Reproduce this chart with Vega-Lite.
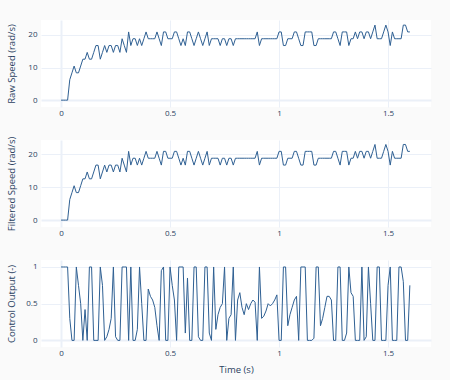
{
 "$schema": "https://vega.github.io/schema/vega-lite/v6.json",
 "background": "#fafafa",
 "padding": {"left": 5, "top": 20, "right": 20, "bottom": 6},
 "bounds": "flush",
 "spacing": 33,
 "config": {
  "view": {"fill": "white", "stroke": null},
  "font": "Open Sans",
  "axis": {
   "domain": false, "ticks": false, "labelPadding": 2, "labelFontSize": 8, "labelColor": "#2a3f5f",
   "titleFontSize": 9.5, "titleFontWeight": "normal", "titleColor": "#2a3f5f",
   "gridColor": "#ebf0f8",
   "gridWidth": {"condition": {"test": "datum.value === 0", "value": 2}, "value": 1}
  },
  "axisY": {"titleX": -30, "titleY": 43.5, "titleBaseline": "middle", "labelPadding": 4},
  "axisX": {"titlePadding": 7}
 },
 "datasets": {"d": [
{"t":0,"raw":0,"ctrl":1},{"t":0.01,"raw":0,"ctrl":1},{"t":0.02,"raw":0,"ctrl":1},{"t":0.03,"raw":0,"ctrl":1},{"t":0.04,"raw":6.28,"ctrl":0.3},
{"t":0.05,"raw":8.38,"ctrl":0},{"t":0.06,"raw":10.47,"ctrl":0},{"t":0.07,"raw":8.38,"ctrl":1},{"t":0.08,"raw":8.38,"ctrl":0.75},{"t":0.09,"raw":10.47,"ctrl":0.5},
{"t":0.1,"raw":12.57,"ctrl":0},{"t":0.11,"raw":12.57,"ctrl":0.42},{"t":0.12,"raw":14.66,"ctrl":0},{"t":0.13,"raw":12.57,"ctrl":1},{"t":0.14,"raw":12.57,"ctrl":1},
{"t":0.15,"raw":14.66,"ctrl":0},{"t":0.16,"raw":16.76,"ctrl":0},{"t":0.17,"raw":16.76,"ctrl":0},{"t":0.18,"raw":12.57,"ctrl":1},{"t":0.19,"raw":14.66,"ctrl":0.75},
{"t":0.2,"raw":16.76,"ctrl":0},{"t":0.21,"raw":14.66,"ctrl":0.05},{"t":0.22,"raw":16.76,"ctrl":0.15},{"t":0.23,"raw":16.76,"ctrl":0.3},{"t":0.24,"raw":14.66,"ctrl":1},
{"t":0.25,"raw":16.76,"ctrl":0.05},{"t":0.26,"raw":16.76,"ctrl":0},{"t":0.27,"raw":14.66,"ctrl":0},{"t":0.28,"raw":18.85,"ctrl":1},{"t":0.29,"raw":16.76,"ctrl":1},
{"t":0.3,"raw":14.66,"ctrl":1},{"t":0.31,"raw":20.94,"ctrl":0},{"t":0.32,"raw":16.76,"ctrl":1},{"t":0.33,"raw":18.85,"ctrl":0},{"t":0.34,"raw":18.85,"ctrl":0},
{"t":0.35,"raw":16.76,"ctrl":0.15},{"t":0.36,"raw":18.85,"ctrl":1},{"t":0.37,"raw":16.76,"ctrl":0.5},{"t":0.38,"raw":18.85,"ctrl":0},{"t":0.39,"raw":20.94,"ctrl":0},
{"t":0.4,"raw":18.85,"ctrl":0.7},{"t":0.41,"raw":18.85,"ctrl":0.6},{"t":0.42,"raw":18.85,"ctrl":0.55},{"t":0.43,"raw":18.85,"ctrl":0.45},{"t":0.44,"raw":20.94,"ctrl":0.2},
{"t":0.45,"raw":18.85,"ctrl":0},{"t":0.46,"raw":16.76,"ctrl":0.95},{"t":0.47,"raw":20.94,"ctrl":1},{"t":0.48,"raw":20.94,"ctrl":0},{"t":0.49,"raw":18.85,"ctrl":0},
{"t":0.5,"raw":18.85,"ctrl":1},{"t":0.51,"raw":18.85,"ctrl":0.75},{"t":0.52,"raw":20.94,"ctrl":0.55},{"t":0.53,"raw":20.94,"ctrl":0},{"t":0.54,"raw":18.85,"ctrl":1},
{"t":0.55,"raw":16.76,"ctrl":1},{"t":0.56,"raw":18.85,"ctrl":1},{"t":0.57,"raw":16.76,"ctrl":0.1},{"t":0.58,"raw":20.94,"ctrl":0.85},{"t":0.59,"raw":20.94,"ctrl":0},
{"t":0.6,"raw":18.85,"ctrl":0},{"t":0.61,"raw":16.76,"ctrl":1},{"t":0.62,"raw":18.85,"ctrl":1},{"t":0.63,"raw":20.94,"ctrl":0.05},{"t":0.64,"raw":18.85,"ctrl":0},
{"t":0.65,"raw":16.76,"ctrl":0},{"t":0.66,"raw":18.85,"ctrl":1},{"t":0.67,"raw":20.94,"ctrl":1},{"t":0.68,"raw":16.76,"ctrl":0.1},{"t":0.69,"raw":18.85,"ctrl":0},
{"t":0.7,"raw":18.85,"ctrl":1},{"t":0.71,"raw":18.85,"ctrl":0.15},{"t":0.72,"raw":18.85,"ctrl":0.35},{"t":0.73,"raw":16.76,"ctrl":0.45},{"t":0.74,"raw":18.85,"ctrl":0.5},
{"t":0.75,"raw":18.85,"ctrl":1},{"t":0.76,"raw":16.76,"ctrl":0},{"t":0.77,"raw":18.85,"ctrl":0.3},{"t":0.78,"raw":18.85,"ctrl":0.35},{"t":0.79,"raw":16.76,"ctrl":1},
{"t":0.8,"raw":18.85,"ctrl":0},{"t":0.81,"raw":18.85,"ctrl":0.55},{"t":0.82,"raw":18.85,"ctrl":0.65},{"t":0.83,"raw":18.85,"ctrl":0.45},{"t":0.84,"raw":18.85,"ctrl":0.35},
{"t":0.85,"raw":18.85,"ctrl":0.5},{"t":0.86,"raw":18.85,"ctrl":0.42},{"t":0.87,"raw":18.85,"ctrl":0.5},{"t":0.88,"raw":18.85,"ctrl":0.55},{"t":0.89,"raw":18.85,"ctrl":0.52},
{"t":0.9,"raw":20.94,"ctrl":0},{"t":0.91,"raw":16.76,"ctrl":1},{"t":0.92,"raw":18.85,"ctrl":0.3},{"t":0.93,"raw":18.85,"ctrl":0.33},{"t":0.94,"raw":18.85,"ctrl":0.4},
{"t":0.95,"raw":18.85,"ctrl":0.5},{"t":0.96,"raw":18.85,"ctrl":0.47},{"t":0.97,"raw":18.85,"ctrl":0.5},{"t":0.98,"raw":18.85,"ctrl":0.55},{"t":0.99,"raw":18.85,"ctrl":0.62},
{"t":1,"raw":20.94,"ctrl":0},{"t":1.01,"raw":20.94,"ctrl":0},{"t":1.02,"raw":16.76,"ctrl":1},{"t":1.03,"raw":16.76,"ctrl":1},{"t":1.04,"raw":18.85,"ctrl":0.2},
{"t":1.05,"raw":18.85,"ctrl":0.35},{"t":1.06,"raw":18.85,"ctrl":0.45},{"t":1.07,"raw":20.94,"ctrl":0.55},{"t":1.08,"raw":20.94,"ctrl":0.6},{"t":1.09,"raw":18.85,"ctrl":0},
{"t":1.1,"raw":16.76,"ctrl":1},{"t":1.11,"raw":16.76,"ctrl":1},{"t":1.12,"raw":20.94,"ctrl":1},{"t":1.13,"raw":20.94,"ctrl":0},{"t":1.14,"raw":20.94,"ctrl":0},
{"t":1.15,"raw":20.94,"ctrl":0},{"t":1.16,"raw":16.76,"ctrl":0.03},{"t":1.17,"raw":16.76,"ctrl":1},{"t":1.18,"raw":18.85,"ctrl":1},{"t":1.19,"raw":18.85,"ctrl":0.2},
{"t":1.2,"raw":18.85,"ctrl":0.3},{"t":1.21,"raw":18.85,"ctrl":0.45},{"t":1.22,"raw":18.85,"ctrl":0.6},{"t":1.23,"raw":18.85,"ctrl":0.6},{"t":1.24,"raw":18.85,"ctrl":0.55},
{"t":1.25,"raw":20.94,"ctrl":0},{"t":1.26,"raw":20.94,"ctrl":0},{"t":1.27,"raw":18.85,"ctrl":1},{"t":1.28,"raw":16.76,"ctrl":1},{"t":1.29,"raw":20.94,"ctrl":0},
{"t":1.3,"raw":20.94,"ctrl":0},{"t":1.31,"raw":20.94,"ctrl":0.1},{"t":1.32,"raw":16.76,"ctrl":1},{"t":1.33,"raw":18.85,"ctrl":0.65},{"t":1.34,"raw":18.85,"ctrl":0.6},
{"t":1.35,"raw":20.94,"ctrl":0},{"t":1.36,"raw":18.85,"ctrl":0},{"t":1.37,"raw":20.94,"ctrl":0},{"t":1.38,"raw":20.94,"ctrl":1},{"t":1.39,"raw":18.85,"ctrl":0},
{"t":1.4,"raw":20.94,"ctrl":0.05},{"t":1.41,"raw":20.94,"ctrl":1},{"t":1.42,"raw":18.85,"ctrl":0.5},{"t":1.43,"raw":20.94,"ctrl":0},{"t":1.44,"raw":23.04,"ctrl":0},
{"t":1.45,"raw":18.85,"ctrl":1},{"t":1.46,"raw":18.85,"ctrl":1},{"t":1.47,"raw":18.85,"ctrl":0},{"t":1.48,"raw":20.94,"ctrl":0},{"t":1.49,"raw":23.04,"ctrl":0},
{"t":1.5,"raw":20.94,"ctrl":0.75},{"t":1.51,"raw":16.76,"ctrl":1},{"t":1.52,"raw":20.94,"ctrl":0},{"t":1.53,"raw":18.85,"ctrl":0},{"t":1.54,"raw":18.85,"ctrl":0},
{"t":1.55,"raw":18.85,"ctrl":1},{"t":1.56,"raw":18.85,"ctrl":1},{"t":1.57,"raw":23.04,"ctrl":0.8},{"t":1.58,"raw":23.04,"ctrl":0},{"t":1.59,"raw":20.94,"ctrl":0},
{"t":1.6,"raw":20.94,"ctrl":0.75}
 ]},
 "data": {"name": "d"},
 "vconcat": [
  {
   "width": 390, "height": 87,
   "mark": {"type": "line", "color": "#2f6093", "strokeWidth": 1, "clip": true},
   "encoding": {
    "x": {"field": "t", "type": "quantitative", "scale": {"domain": [-0.092, 1.697], "nice": false, "zero": false}, "axis": {"title": null, "values": [0, 0.5, 1, 1.5], "format": "~g"}},
    "y": {"field": "raw", "type": "quantitative", "scale": {"domain": [-2.1, 24.6], "nice": false, "zero": false}, "axis": {"title": "Raw Speed (rad/s)", "values": [0, 10, 20]}}
   }
  },
  {
   "width": 390, "height": 87,
   "mark": {"type": "line", "color": "#2f6093", "strokeWidth": 1, "clip": true},
   "encoding": {
    "x": {"field": "t", "type": "quantitative", "scale": {"domain": [-0.092, 1.697], "nice": false, "zero": false}, "axis": {"title": null, "values": [0, 0.5, 1, 1.5], "format": "~g"}},
    "y": {"field": "raw", "type": "quantitative", "scale": {"domain": [-2.1, 24.4], "nice": false, "zero": false}, "axis": {"title": "Filtered Speed (rad/s)", "values": [0, 10, 20]}}
   }
  },
  {
   "width": 390, "height": 87,
   "mark": {"type": "line", "color": "#2f6093", "strokeWidth": 1, "clip": true},
   "encoding": {
    "x": {"field": "t", "type": "quantitative", "scale": {"domain": [-0.092, 1.697], "nice": false, "zero": false}, "axis": {"title": "Time (s)", "values": [0, 0.5, 1, 1.5], "format": "~g"}},
    "y": {"field": "ctrl", "type": "quantitative", "scale": {"domain": [-0.09, 1.095], "nice": false, "zero": false}, "axis": {"title": "Control Output (-)", "values": [0, 0.5, 1], "format": "~g"}}
   }
  }
 ]
}
